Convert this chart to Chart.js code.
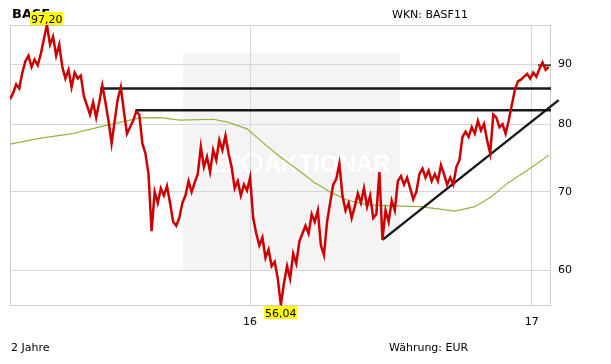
<!DOCTYPE html>
<html>
<head>
<meta charset="utf-8">
<script src="https://cdn.jsdelivr.net/npm/chart.js@4/dist/chart.umd.min.js"></script>
<style>
  html, body { margin: 0; padding: 0; background: #fff; }
  #wrap { width: 611px; height: 364px; }
</style>
</head>
<body>
<div id="wrap"><canvas id="chart" width="611" height="364"></canvas></div>
<script>
// ---- data ----
// BASF close, one value every 4 calendar days starting at priceStart
const priceStart = '2015-02-23';
const priceStepDays = 4;
const priceValues = [
  84.0, 85.0, 86.5, 85.8, 88.5, 90.5, 91.5, 89.5, 90.8, 89.8,
  91.8, 94.5, 97.2, 93.5, 95.0, 91.5, 93.5, 89.5, 87.5, 89.0,
  86.0, 88.5, 87.5, 88.0, 84.5, 83.0, 81.5, 83.5, 81.0, 83.5,
  86.3, 83.5, 80.5, 77.0, 80.5, 84.0, 86.0, 82.0, 78.5, 79.5,
  80.5, 82.0, 81.5, 77.0, 75.5, 72.5, 64.8, 70.0, 68.5, 70.5,
  69.5, 70.8, 68.5, 66.0, 65.5, 66.5, 68.5, 69.5, 71.5, 70.0,
  71.3, 72.5, 76.5, 73.5, 75.0, 72.8, 76.0, 74.5, 77.5, 76.0,
  78.2, 75.5, 73.5, 70.5, 71.5, 69.5, 71.0, 70.2, 72.0, 66.5,
  64.5, 63.0, 64.0, 61.5, 62.5, 60.5, 61.0, 59.0, 56.04, 58.5,
  60.5, 59.0, 62.0, 60.8, 63.5, 64.5, 65.5, 64.5, 67.0, 66.0,
  67.5, 63.0, 61.8, 66.0, 68.5, 71.0, 71.8, 74.0, 69.5, 67.5,
  68.5, 66.5, 68.0, 69.8, 68.5, 70.5, 68.0, 69.5, 66.5, 67.0,
  72.8, 63.7, 67.5, 66.0, 68.8, 67.5, 71.5, 72.2, 71.0, 72.0,
  70.5, 69.0, 70.0, 72.5, 73.3, 72.0, 73.0, 71.5, 72.5, 71.5,
  73.8, 72.5, 71.0, 72.0, 71.0, 73.5, 74.5, 78.0, 78.8, 78.0,
  79.5, 78.5, 80.5, 79.0, 80.0, 77.5, 75.5, 81.5, 81.0, 79.5,
  80.0, 78.5, 80.5, 83.0, 85.5, 87.0, 87.3, 87.8, 88.3, 87.5,
  88.5, 87.8, 89.2, 90.3, 89.0, 89.5
];

// 200-day moving average (green)
const maDates = [
  '2015-02-23', '2015-04-04', '2015-05-13', '2015-06-20', '2015-08-11', '2015-09-06',
  '2015-10-02', '2015-11-14', '2015-12-03', '2015-12-28', '2016-01-20', '2016-02-09',
  '2016-03-02', '2016-03-23', '2016-04-14', '2016-05-06', '2016-06-01', '2016-07-05',
  '2016-08-09', '2016-09-01', '2016-09-23', '2016-10-19', '2016-11-09', '2016-12-01',
  '2016-12-23', '2017-01-09', '2017-01-23'
];
const maValues = [
  76.9, 77.8, 78.45, 79.55, 80.98, 81.0,
  80.6, 80.75, 80.3, 79.24, 76.9, 75.0,
  73.2, 71.4, 70.0, 68.9, 68.25, 68.1,
  68.0, 67.7, 67.4, 68.0, 69.3, 71.25,
  72.8, 74.1, 75.25
];

// drawn resistance levels (run to the right edge) and support trend line
const levelValues = [85.8, 82.2, 89.8];
const levelStarts = ['2015-06-20', '2015-08-05', '2017-01-09'];
const trendDates = ['2016-06-21', '2017-02-05'];
const trendValues = [63.7, 83.85];

// axes
const axisStart = '2015-02-23';
const axisEnd = '2017-01-26';
const xTickDates = ['2016-01-01', '2017-01-01'];
const xTickLabels = ['16', '17'];
const yTicks = [60, 70, 80, 90];

// ---- helpers ----
function dayNum(s) {
  return Date.parse(s + 'T00:00:00Z') / 86400000;
}
function fmt(v) {
  return v.toFixed(2).replace('.', ',');
}

const t0 = dayNum(priceStart);
const pricePoints = priceValues.map((v, i) => ({ x: t0 + i * priceStepDays, y: v }));
const maPoints = maDates.map((d, i) => ({ x: dayNum(d), y: maValues[i] }));
const xMax = dayNum(axisEnd);

const yMin = Math.min(...priceValues);
const yMax = Math.max(...priceValues);
const iMin = priceValues.indexOf(yMin);
const iMax = priceValues.indexOf(yMax);

const TXT = '"DejaVu Sans", Verdana, sans-serif';

const blackLine = {
  borderColor: 'rgba(0,0,0,0.9)',
  borderWidth: 2.5,
  pointRadius: 0,
  fill: false,
  tension: 0,
  order: 1
};

const levelSets = levelValues.map((v, i) => ({
  ...blackLine,
  data: [{ x: dayNum(levelStarts[i]), y: v }, { x: xMax, y: v }]
}));
// the short one on the top right is a lighter, thinner stroke
levelSets[2].borderColor = '#444';
levelSets[2].borderWidth = 2;

// ---- plugin: frame, watermark, texts, min/max flags ----
const decor = {
  id: 'decor',
  beforeDraw(chart) {
    const ctx = chart.ctx;
    const a = chart.chartArea;
    ctx.save();
    // watermark panel
    ctx.fillStyle = '#f4f4f4';
    ctx.fillRect(a.left + 173, a.top + 28, 217, 217);
    ctx.fillStyle = '#ffffff';
    ctx.strokeStyle = '#ffffff';
    ctx.font = 'bold 24px "Liberation Sans", Arial, sans-serif';
    ctx.textBaseline = 'alphabetic';
    ctx.fillText('DER', a.left + 182, a.top + 147);
    ctx.lineWidth = 3;
    ctx.beginPath();
    ctx.arc(a.left + 242, a.top + 138, 9, 0, Math.PI * 2);
    ctx.stroke();
    ctx.fillText('AKTIONÄR', a.left + 254, a.top + 147);
    ctx.restore();
  },
  beforeDatasetsDraw(chart) {
    const ctx = chart.ctx;
    const a = chart.chartArea;
    ctx.save();
    ctx.strokeStyle = '#cfcfcf';
    ctx.lineWidth = 1;
    ctx.strokeRect(a.left + 0.5, a.top + 0.5, a.right - a.left - 1, a.bottom - a.top);
    ctx.restore();
  },
  afterDraw(chart) {
    const ctx = chart.ctx;
    const a = chart.chartArea;
    const xs = chart.scales.x;
    const ys = chart.scales.y;
    ctx.save();
    ctx.fillStyle = '#000';
    ctx.textBaseline = 'alphabetic';
    ctx.font = 'bold 13px ' + TXT;
    ctx.fillText('BASF', 12, 18);
    ctx.font = '11px ' + TXT;
    ctx.fillText('WKN: BASF11', 392, 18);
    ctx.fillText('2 Jahre', 11, 351);
    ctx.fillText('Währung: EUR', 389, 351);

    // max flag above the frame
    ctx.font = '11px ' + TXT;
    let px = xs.getPixelForValue(pricePoints[iMax].x);
    let txt = fmt(yMax);
    let w = ctx.measureText(txt).width + 2;
    ctx.fillStyle = '#ffff00';
    ctx.fillRect(Math.round(px - w / 2), a.top - 13, Math.round(w), 13);
    ctx.fillStyle = '#000';
    ctx.fillText(txt, Math.round(px - w / 2) + 1, a.top - 2);

    // min flag below the frame
    px = xs.getPixelForValue(pricePoints[iMin].x);
    const py = ys.getPixelForValue(yMin);
    txt = fmt(yMin);
    w = ctx.measureText(txt).width + 2;
    ctx.strokeStyle = '#cc0000';
    ctx.lineWidth = 1;
    ctx.beginPath();
    ctx.moveTo(Math.round(px) + 0.5, py);
    ctx.lineTo(Math.round(px) + 0.5, a.bottom + 2);
    ctx.stroke();
    ctx.fillStyle = '#ffff00';
    ctx.fillRect(Math.round(px - w / 2), a.bottom + 1, Math.round(w), 13);
    ctx.fillStyle = '#000';
    ctx.fillText(txt, Math.round(px - w / 2) + 1, a.bottom + 12);
    ctx.restore();
  }
};

// ---- chart ----
new Chart(document.getElementById('chart'), {
  type: 'line',
  data: {
    datasets: [
      {
        label: 'BASF',
        data: pricePoints,
        borderColor: '#cc0000',
        borderWidth: 2.5,
        pointRadius: 0,
        tension: 0,
        fill: false,
        order: 0
      },
      ...levelSets,
      {
        ...blackLine,
        data: trendDates.map((d, i) => ({ x: dayNum(d), y: trendValues[i] })),
        clip: { left: 0, top: 0, right: 10, bottom: 0 }
      },
      {
        label: 'GD 200',
        data: maPoints,
        borderColor: '#92b33e',
        borderWidth: 1.2,
        pointRadius: 0,
        tension: 0,
        fill: false,
        order: 2
      }
    ]
  },
  options: {
    responsive: false,
    devicePixelRatio: 1,
    animation: false,
    events: [],
    layout: { padding: { left: 10, top: 25, right: 0, bottom: 0 } },
    plugins: {
      legend: { display: false },
      tooltip: { enabled: false }
    },
    scales: {
      x: {
        type: 'linear',
        min: dayNum(axisStart),
        max: xMax,
        afterBuildTicks: (scale) => {
          scale.ticks = xTickDates.map(d => ({ value: dayNum(d) }));
        },
        afterFit: (scale) => { scale.height = 59; },
        grid: { color: '#d6d6d6', drawTicks: false },
        border: { display: false },
        ticks: {
          autoSkip: false,
          maxRotation: 0,
          padding: 11,
          color: '#000',
          font: { family: TXT, size: 11 },
          callback: (v, i) => xTickLabels[i]
        }
      },
      y: {
        type: 'logarithmic',
        position: 'right',
        min: yMin,
        max: yMax,
        afterBuildTicks: (scale) => {
          scale.ticks = yTicks.map(v => ({ value: v }));
        },
        afterFit: (scale) => { scale.width = 60; },
        grid: { color: '#d6d6d6', drawTicks: false },
        border: { display: false },
        ticks: {
          padding: 7,
          color: '#000',
          font: { family: TXT, size: 11 },
          callback: (v) => String(v)
        }
      }
    }
  },
  plugins: [decor]
});
</script>
</body>
</html>
